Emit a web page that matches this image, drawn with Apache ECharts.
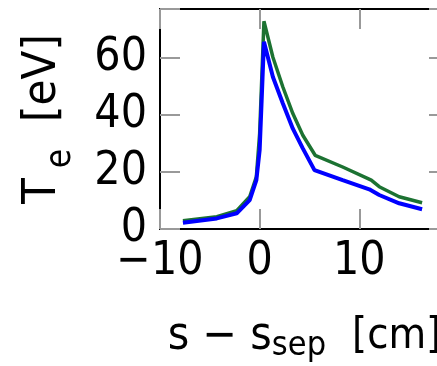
<!DOCTYPE html>
<html>
<head>
<meta charset="utf-8">
<script src="https://cdn.jsdelivr.net/npm/echarts@6/dist/echarts.min.js"></script>
<style>
	html, body { margin: 0; padding: 0; background: #fff; }
	#TeChart { width: 437px; height: 366px; }
</style>
</head>
<body>
<div id="TeChart"></div>
<script>
// s - s_sep [cm] and T_e [eV]
let green_s = [-7.7, -4.3, -2.3, -1.0, -0.33, 0.0, 0.43, 1.33, 2.33, 3.33, 4.33, 5.57, 8.33, 11.2, 12.0, 14.0, 16.3];
let green_te = [2.9, 4.3, 6.4, 11.3, 18.3, 33.5, 72.7, 60.1, 49.7, 40.4, 32.8, 25.8, 21.7, 17.1, 14.8, 11.3, 9.2];
let blue_s = [-7.7, -4.3, -2.3, -1.0, -0.33, 0.0, 0.2, 0.43, 1.33, 2.33, 3.33, 4.33, 5.5, 8.33, 11.0, 12.0, 14.0, 16.3];
let blue_te = [2.2, 3.7, 5.5, 10.1, 17.1, 27.6, 45.0, 65.5, 53.2, 43.9, 35.1, 28.2, 20.6, 17.1, 13.9, 11.9, 9.0, 6.9];
let x_ticks = [-10, 0, 10];
let y_ticks = [0, 20, 40, 60];

let zip = (xs, ys) => xs.map((x, i) => [x, ys[i]]);

let echarts = window.echarts;
let myChart = echarts.init(document.getElementById("TeChart"));

let font = "'DejaVu Sans Condensed', 'DejaVu Sans'";
// ticks only get drawn when the axis line is shown, so the axis lines make the frame
let tickStyle = () => ({ show: true, inside: true, length: 20, lineStyle: { color: "#999", width: 2 } });
let frameLine = () => ({ show: true, onZero: false, lineStyle: { color: "#000", width: 2 } });

let xLabel = function (v) {
	if (x_ticks.indexOf(v) < 0) {
		return "";
	}
	return String(v).replace("-", "\u2212");
};
let yLabel = function (v) {
	return y_ticks.indexOf(v) < 0 ? "" : String(v);
};

let option = {
	animation: false,
	grid: {
		show: false,
		left: 160,
		top: 9,
		right: -12,
		bottom: 137,
		outerBoundsMode: "none",
	},
	xAxis: [
		{
			type: "value",
			min: -10,
			max: 19,
			interval: 10,
			axisLine: frameLine(),
			axisTick: tickStyle(),
			splitLine: { show: false },
			axisLabel: {
				formatter: xLabel,
				color: "#000",
				fontFamily: font,
				fontSize: 46,
				margin: 10,
			},
			name: "{a|s \u2212 s}{b|sep}{c|[cm]}",
			nameLocation: "middle",
			nameGap: 82,
			nameTextStyle: {
				rich: {
					a: { fontFamily: font, fontSize: 46, color: "#000" },
					b: { fontFamily: font, fontSize: 34, color: "#000", padding: [18, 0, 0, 0] },
					c: { fontFamily: font, fontSize: 43, color: "#000", padding: [0, 0, 0, 26] },
				},
			},
		},
		{
			type: "value",
			position: "top",
			min: -10,
			max: 19,
			interval: 10,
			axisLine: frameLine(),
			axisTick: tickStyle(),
			axisLabel: { show: false },
			splitLine: { show: false },
		},
	],
	yAxis: [
		{
			type: "value",
			min: 0,
			max: 77,
			interval: 20,
			axisLine: frameLine(),
			axisTick: tickStyle(),
			splitLine: { show: false },
			axisLabel: {
				formatter: yLabel,
				color: "#000",
				fontFamily: font,
				fontSize: 46,
				margin: 13,
			},
			name: "{a|T}{b| e}{a|  [eV]}",
			nameLocation: "middle",
			nameRotate: 90,
			nameGap: 82,
			nameTextStyle: {
				rich: {
					a: { fontFamily: font, fontSize: 47, color: "#000" },
					b: { fontFamily: font, fontSize: 35, color: "#000", padding: [36, 0, 0, 0] },
				},
			},
		},
		{
			type: "value",
			position: "right",
			min: 0,
			max: 77,
			interval: 20,
			axisLine: frameLine(),
			axisTick: tickStyle(),
			axisLabel: { show: false },
			splitLine: { show: false },
		},
	],
	series: [
		{
			type: "line",
			name: "green",
			data: zip(green_s, green_te),
			showSymbol: false,
			lineStyle: { color: "#1c7232", width: 3.5 },
			z: 2,
		},
		{
			type: "line",
			name: "blue",
			data: zip(blue_s, blue_te),
			showSymbol: false,
			lineStyle: { color: "#0000ff", width: 4 },
			z: 3,
		},
	],
};

myChart.setOption(option);
</script>
</body>
</html>
